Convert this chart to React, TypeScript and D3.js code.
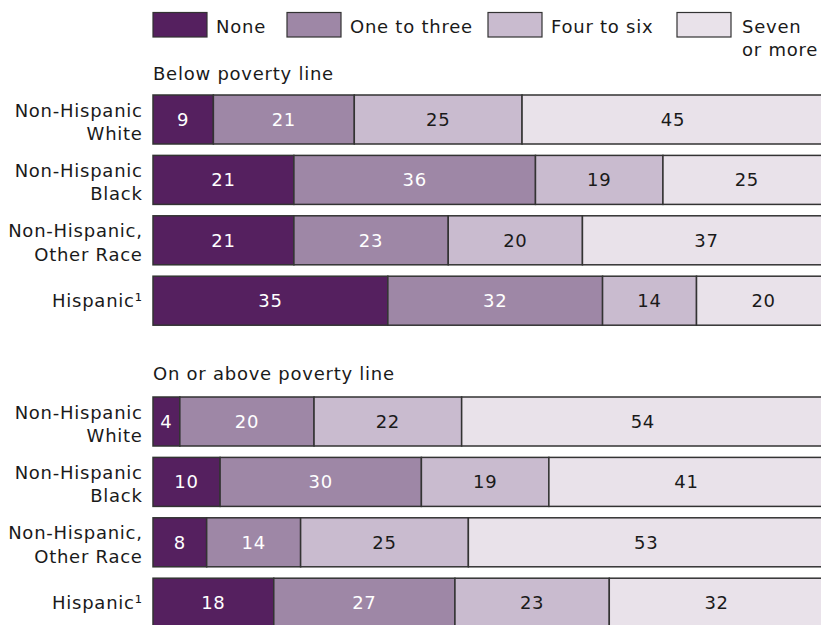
import React from "react";
import * as d3 from "d3";

const categories = ["None", "One to three", "Four to six", "Seven or more"];
const races = ["Non-Hispanic White", "Non-Hispanic Black", "Non-Hispanic, Other Race", "Hispanic"];
const raceLines = [["Non-Hispanic", "White"], ["Non-Hispanic", "Black"], ["Non-Hispanic,", "Other Race"], ["Hispanic¹"]];
const groupTitles = ["Below poverty line", "On or above poverty line"];
const belowValues = [
  [9, 21, 25, 45],
  [21, 36, 19, 25],
  [21, 23, 20, 37],
  [35, 32, 14, 20],
];
const aboveValues = [
  [4, 20, 22, 54],
  [10, 30, 19, 41],
  [8, 14, 25, 53],
  [18, 27, 23, 32],
];
const colors = ["#55205f", "#9e87a6", "#c9bbcf", "#e9e2ea"];
const textColors = ["#ffffff", "#ffffff", "#1a1a1a", "#1a1a1a"];

const W = 821;
const H = 625;
const FONT = "'DejaVu Sans', sans-serif";
const LS = 0.75;

export default function App() {
  const x = d3.scaleLinear().domain([0, 100]).range([153, 824]);
  const groups = [
    { title: groupTitles[0], values: belowValues, titleY: 80, top: 95 },
    { title: groupTitles[1], values: aboveValues, titleY: 380, top: 397 },
  ];
  const legendX = [153, 287, 488, 677];

  return (
    <svg
      width={W}
      height={H}
      style={{ position: "absolute", left: 0, top: 0, background: "#fff" }}
      fontFamily={FONT}
      fontSize={18}
      letterSpacing={LS}
    >
      <defs>
        <clipPath id="clip">
          <rect x={0} y={0} width={W} height={H} />
        </clipPath>
      </defs>
      {/* Legend */}
      {categories.map((c, i) => (
        <g key={c}>
          <rect x={legendX[i]} y={12.5} width={54} height={24.5} fill={colors[i]} stroke="#333" strokeWidth={1.2} />
          {i < 3 ? (
            <text x={legendX[i] + 63} y={32.5} fill="#1a1a1a">{c}</text>
          ) : (
            <text x={legendX[i] + 65} y={32.5} fill="#1a1a1a">
              <tspan x={legendX[i] + 65}>Seven</tspan>
              <tspan x={legendX[i] + 65} dy={23.5}>or more</tspan>
            </text>
          )}
        </g>
      ))}
      {groups.map((g, gi) => {
        const y = d3.scaleBand<string>().domain(races).range([g.top, g.top + 3 * 60.4 + 49]).paddingInner(11.4 / 60.4).paddingOuter(0);
        const stack = d3.stack<number[]>().keys(categories.map((_, i) => String(i))).value((d, k) => d[+k]);
        const series = stack(g.values as any);
        return (
          <g key={gi}>
            <text x={153} y={g.titleY} fill="#1a1a1a">{g.title}</text>
            {races.map((r, ri) => {
              const y0 = y(r)!;
              const cy = y0 + y.bandwidth() / 2;
              const lines = raceLines[ri];
              return (
                <g key={r}>
                  {lines.length === 2 ? (
                    <text textAnchor="end" fill="#1a1a1a">
                      <tspan x={142.7} y={cy - 3}>{lines[0]}</tspan>
                      <tspan x={142.7} y={cy + 20.3}>{lines[1]}</tspan>
                    </text>
                  ) : (
                    <text textAnchor="end" x={142.7} y={cy + 6.3} fill="#1a1a1a">{lines[0]}</text>
                  )}
                  <g clipPath="url(#clip)">
                    {series.map((s, si) => {
                      const seg = s[ri];
                      const x0 = x(seg[0]);
                      const x1 = x(seg[1]);
                      return (
                        <rect key={si} x={x0} y={y0} width={x1 - x0} height={y.bandwidth()} fill={colors[si]} stroke="#333" strokeWidth={1.5} />
                      );
                    })}
                  </g>
                  {series.map((s, si) => {
                    const seg = s[ri];
                    const cx = (x(seg[0]) + x(seg[1])) / 2;
                    return (
                      <text key={si} x={cx} y={cy + 6.5} textAnchor="middle" fill={textColors[si]}>
                        {g.values[ri][si]}
                      </text>
                    );
                  })}
                </g>
              );
            })}
          </g>
        );
      })}
    </svg>
  );
}
